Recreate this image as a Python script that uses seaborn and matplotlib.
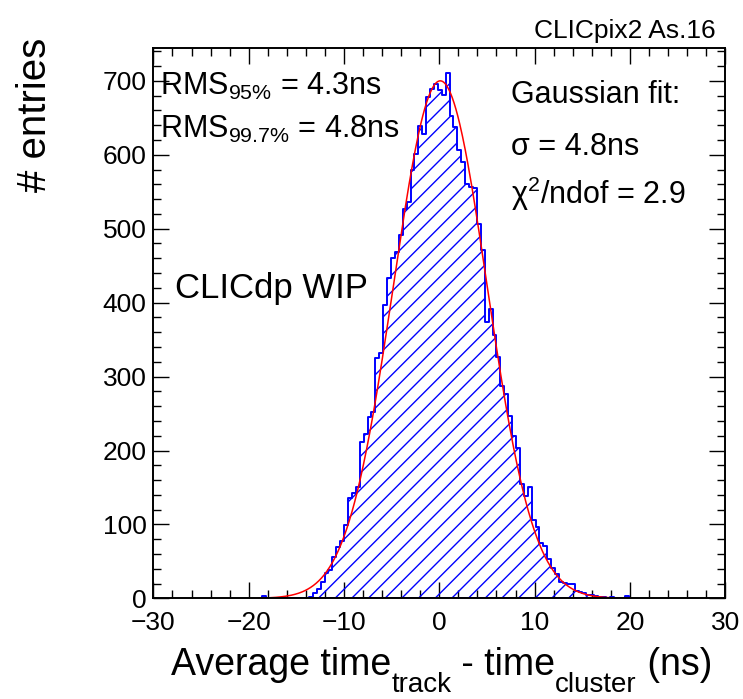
import matplotlib
matplotlib.use("Agg")
import matplotlib.pyplot as plt
from matplotlib.transforms import IdentityTransform
import numpy as np
import seaborn as sns

# histogram: bin layout and counts (0.41 ns bins)
first_edge = -18.6
bin_width = 0.41
counts = [
    3, 0, 0, 0, 0, 1, 0, 0, 1, 0, 1, 1,
    2, 7, 13, 22, 34, 39, 56, 70, 77, 99,
    136, 143, 151, 211, 222, 245, 252, 325, 332, 397,
    433, 460, 468, 492, 527, 536, 580, 601, 639, 628,
    678, 689, 696, 687, 681, 711,
    653, 637, 606, 590, 560, 557, 555, 506, 471, 374,
    391, 356, 326, 287, 276, 247, 219, 203,
    155, 138, 150, 106, 97, 75, 71, 53, 41, 33,
    22, 21, 20, 19, 10, 8, 7, 5, 4, 3,
    2, 2, 1, 2, 1, 1, 0, 3,
]

# gaussian fit parameters
fit_amplitude = 700.0
fit_mean = 0.1
fit_sigma = 4.9
fit_range = [-19.0, 19.5]

x_ticks = [-30, -20, -10, 0, 10, 20, 30]
y_ticks = [0, 100, 200, 300, 400, 500, 600, 700]

sns.set_style("ticks")
plt.rcParams["font.family"] = ["Liberation Sans", "DejaVu Sans"]
plt.rcParams["mathtext.fontset"] = "custom"
plt.rcParams["mathtext.rm"] = "Liberation Sans"
plt.rcParams["mathtext.it"] = "Liberation Sans:italic"
plt.rcParams["mathtext.bf"] = "Liberation Sans:bold"
plt.rcParams["hatch.linewidth"] = 1.0
plt.rcParams["text.color"] = "black"

edges = first_edge + bin_width * np.arange(len(counts) + 1)
centers = edges[:-1] + bin_width / 2

W, H = 743, 699
fig = plt.figure(figsize=(W / 100, H / 100), dpi=100)
ax = fig.add_axes([153.4 / W, 1 - 598.4 / H, (725.2 - 153.4) / W, (598.4 - 48.3) / H])

sns.histplot(
    x=centers, weights=counts, bins=list(edges), element="step", fill=True,
    color="blue", facecolor="none", edgecolor="blue", hatch="//", linewidth=1.4, ax=ax,
)

fit_x = np.linspace(fit_range[0], fit_range[1], 400)
fit_y = fit_amplitude * np.exp(-0.5 * ((fit_x - fit_mean) / fit_sigma) ** 2)
sns.lineplot(x=fit_x, y=fit_y, color="red", linewidth=1.1, ax=ax)

ax.set_xlim(-30, 30)
ax.set_ylim(0, 744)
ax.set_xticks(x_ticks)
ax.set_yticks(y_ticks)
ax.set_xticks(np.arange(-30, 31, 2), minor=True)
ax.set_yticks(np.arange(0, 744, 20), minor=True)
ax.set_xlabel("")
ax.set_ylabel("")
for s in ax.spines.values():
    s.set_visible(True)
    s.set_linewidth(1.4)
    s.set_color("black")
ax.tick_params(which="both", direction="in", top=True, right=True, width=1.0, colors="black")
ax.tick_params(which="major", length=11.5)
ax.tick_params(which="minor", length=5.8)
ax.tick_params(axis="x", which="major", labelsize=19, pad=9)
ax.tick_params(axis="y", which="major", labelsize=19, pad=5)


def px(x, y):
    return x / W, 1 - y / H


# x title built piecewise so the subscripts sit low, ROOT style
renderer = fig.canvas.get_renderer()
title_parts = [("Average time", 27, 0), ("track", 20, 17), (" - time", 27, 0),
               ("cluster", 20, 17), (" (ns)", 27, 0)]
cursor = 171.0
for txt, size, drop in title_parts:
    t = fig.text(cursor, H - 675 - drop, txt, fontsize=size, ha="left", va="baseline",
                 transform=IdentityTransform())
    cursor = t.get_window_extent(renderer).x1

fig.text(35 / W, 1 - 38 / H, "# entries", rotation=90, ha="center", va="top", fontsize=29)
fig.text(*px(716, 38), "CLICpix2 As.16", ha="right", va="baseline", fontsize=19)

fig.text(*px(160, 95), r"RMS$_{\mathrm{95\%}}$ = 4.3ns", ha="left", va="baseline", fontsize=22)
fig.text(*px(160, 138), r"RMS$_{\mathrm{99.7\%}}$ = 4.8ns", ha="left", va="baseline", fontsize=22)
fig.text(*px(511, 103), "Gaussian fit:", ha="left", va="baseline", fontsize=22)
fig.text(*px(511, 155), "σ = 4.8ns", ha="left", va="baseline", fontsize=22)
fig.text(*px(511, 204), r"χ$^{\mathrm{2}}$/ndof = 2.9", ha="left", va="baseline", fontsize=22)
fig.text(*px(175, 298), "CLICdp WIP", ha="left", va="baseline", fontsize=25)

fig.savefig("out.png", dpi=100)
